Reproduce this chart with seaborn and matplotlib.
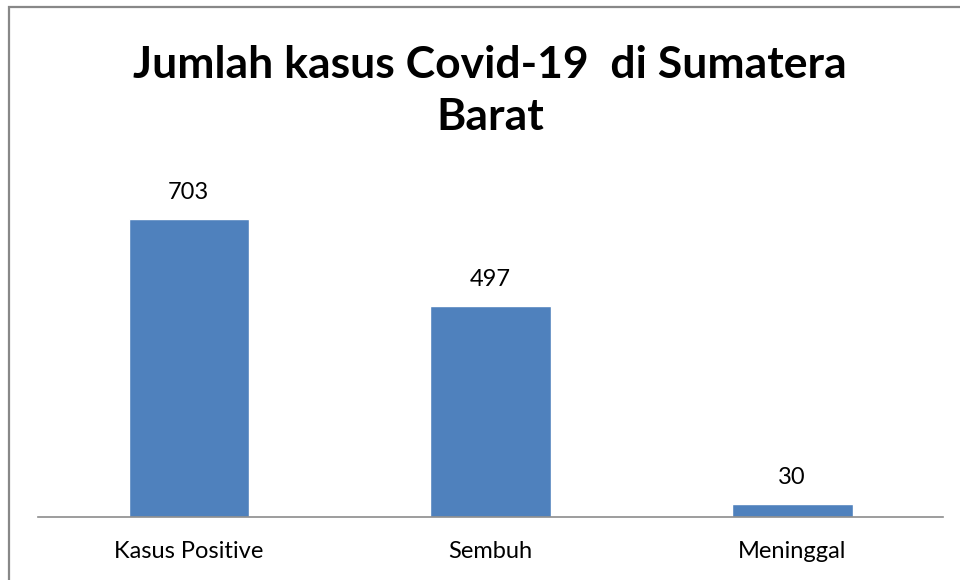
import matplotlib.pyplot as plt
import seaborn as sns
from matplotlib.patches import Rectangle

# Data
categories = ['Kasus Positive', 'Sembuh', 'Meninggal']
values = [703, 497, 30]
title_text = 'Jumlah kasus Covid-19  di Sumatera\nBarat'

sns.set_style('white')
plt.rcParams['font.family'] = ['Lato', 'DejaVu Sans']
plt.rcParams['text.color'] = 'black'

fig = plt.figure(figsize=(9.6, 5.8), dpi=100)
ax = fig.add_axes([38 / 960, 63 / 580, 905 / 960, 339.4 / 580])

sns.barplot(x=categories, y=values, color='#4F81BD', saturation=1,
            width=0.4, ax=ax)

ax.set_ylim(0, 800)
ax.set_yticks([])
ax.set_xlabel('')
ax.set_ylabel('')
for side in ['top', 'right', 'left']:
    ax.spines[side].set_visible(False)
ax.spines['bottom'].set_color('#8c8c8c')
ax.spines['bottom'].set_linewidth(1.2)
ax.tick_params(axis='x', length=0, pad=17, labelsize=17, labelcolor='black')

# value labels
for i, v in enumerate(values):
    ax.annotate(str(v), (i, v), xytext=(0, 19), textcoords='offset points',
                ha='center', va='center', fontsize=17, color='black')

# title
fig.text(490 / 960, 1 - 91 / 580, title_text, ha='center', va='center',
         fontsize=32, fontweight='bold', linespacing=1.38, color='black')

# chart border
fig.patches.append(Rectangle((9 / 960, -0.05), 1.1, 1 - 7 / 580 + 0.05,
                             transform=fig.transFigure, fill=False,
                             edgecolor='#888888', linewidth=1.6))

fig.savefig('out.png', dpi=100)
